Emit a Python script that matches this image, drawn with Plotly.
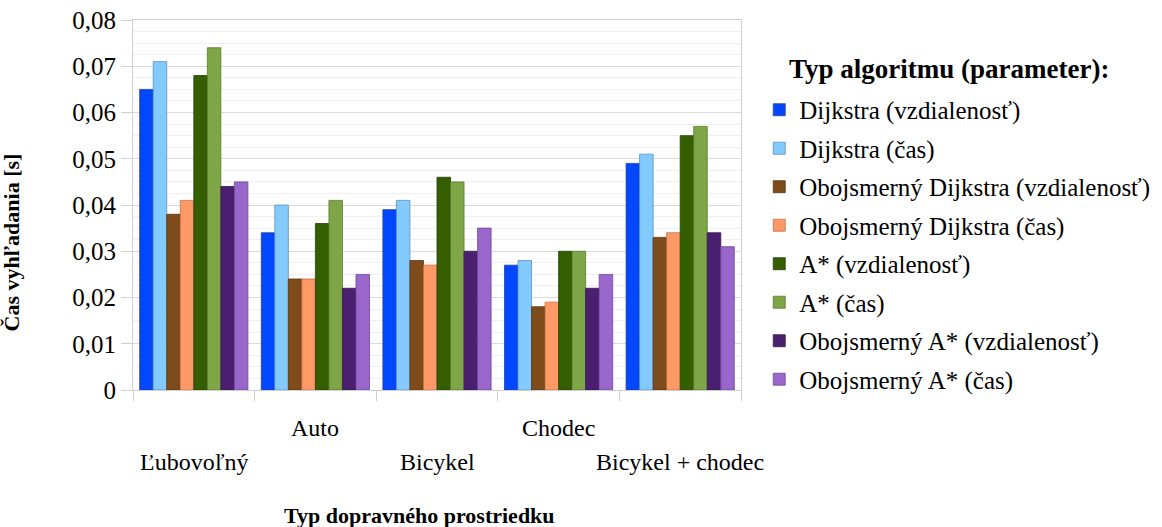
import plotly.graph_objects as go

# Transport types (x categories)
categories = ["Ľubovoľný", "Auto", "Bicykel", "Chodec", "Bicykel + chodec"]

# Algorithm variants (series names)
series_names = [
    "Dijkstra (vzdialenosť)",
    "Dijkstra (čas)",
    "Obojsmerný Dijkstra (vzdialenosť)",
    "Obojsmerný Dijkstra (čas)",
    "A* (vzdialenosť)",
    "A* (čas)",
    "Obojsmerný A* (vzdialenosť)",
    "Obojsmerný A* (čas)",
]

# Search time in seconds, one list per algorithm variant
dijkstra_dist = [0.065, 0.034, 0.039, 0.027, 0.049]
dijkstra_time = [0.071, 0.040, 0.041, 0.028, 0.051]
bidi_dijkstra_dist = [0.038, 0.024, 0.028, 0.018, 0.033]
bidi_dijkstra_time = [0.041, 0.024, 0.027, 0.019, 0.034]
astar_dist = [0.068, 0.036, 0.046, 0.030, 0.055]
astar_time = [0.074, 0.041, 0.045, 0.030, 0.057]
bidi_astar_dist = [0.044, 0.022, 0.030, 0.022, 0.034]
bidi_astar_time = [0.045, 0.025, 0.035, 0.025, 0.031]

series_values = [
    dijkstra_dist, dijkstra_time,
    bidi_dijkstra_dist, bidi_dijkstra_time,
    astar_dist, astar_time,
    bidi_astar_dist, bidi_astar_time,
]

# Y axis ticks
y_tick_values = [0, 0.01, 0.02, 0.03, 0.04, 0.05, 0.06, 0.07, 0.08]
y_tick_labels = ["0", "0,01", "0,02", "0,03", "0,04", "0,05", "0,06", "0,07", "0,08"]

fill_colors = ["#0047ff", "#83caff", "#7e4b1b", "#ff9966",
               "#355e00", "#7ea646", "#4b1f6f", "#9966cc"]
edge_colors = ["#2a3f8f", "#5a8fb8", "#5a3510", "#c07048",
               "#24400a", "#5a7a30", "#35164f", "#6e4a94"]

FONT = "Liberation Serif"

fig = go.Figure()
for i, (name, vals) in enumerate(zip(series_names, series_values)):
    fig.add_trace(go.Bar(
        x=categories, y=vals, name=name,
        legendgroup=name,
        marker=dict(color=fill_colors[i], line=dict(color=edge_colors[i], width=0.8)),
    ))

fig.update_layout(
    width=1162, height=527,
    margin=dict(l=133, r=421, t=20, b=137, autoexpand=False),
    paper_bgcolor="white", plot_bgcolor="white",
    font=dict(family=FONT, color="black", size=24),
    barmode="group", bargap=0.11, bargroupgap=0,
    showlegend=True,
    legend=dict(
        x=1.03, xanchor="left", y=0.819, yanchor="top",
        font=dict(size=25),
        traceorder="grouped", tracegroupgap=3,
        itemwidth=30,
        bgcolor="rgba(0,0,0,0)",
    ),
    xaxis=dict(
        type="category", showticklabels=False,
        range=[-0.5, len(categories) - 0.5], autorange=False,
        ticks="outside", tickson="boundaries", ticklen=10,
        tickcolor="#d0d0d0", showline=True, linecolor="#d0d0d0", mirror=True,
        showgrid=False, zeroline=False,
    ),
    yaxis=dict(
        range=[0, 0.08], tickvals=y_tick_values, ticktext=y_tick_labels,
        ticks="outside", ticklen=11, tickcolor="#d0d0d0",
        tickfont=dict(size=25),
        showline=True, linecolor="#d0d0d0", mirror=True,
        showgrid=True, gridcolor="#dcdcdc", gridwidth=1,
        minor=dict(dtick=0.0025, showgrid=True, gridcolor="#f0f0f0", gridwidth=1),
        zeroline=False,
    ),
)

# Legend heading
fig.add_annotation(
    x=1.0757, xref="paper", y=1 - (69 - 20) / 370, yref="paper",
    xanchor="left", yanchor="middle",
    text="<b>Typ algoritmu (parameter):</b>", showarrow=False, font=dict(size=27),
)

# Staggered category labels below the axis
for i, cat in enumerate(categories):
    fig.add_annotation(
        x=cat, xref="x", y=0, yref="paper",
        text=cat, showarrow=False, yanchor="top",
        yshift=-23 if i % 2 == 1 else -57,
        font=dict(size=24),
    )

# Axis titles
fig.add_annotation(
    x=0.472, xref="paper", y=0, yref="paper", yanchor="top", yshift=-111,
    text="<b>Typ dopravného prostriedku</b>", showarrow=False, font=dict(size=22),
)
fig.add_annotation(
    x=-0.2, xref="paper", y=0.4, yref="paper", xanchor="center",
    text="<b>Čas vyhľadania [s]</b>", textangle=-90, showarrow=False, font=dict(size=22),
)

fig.write_html("out.html")
